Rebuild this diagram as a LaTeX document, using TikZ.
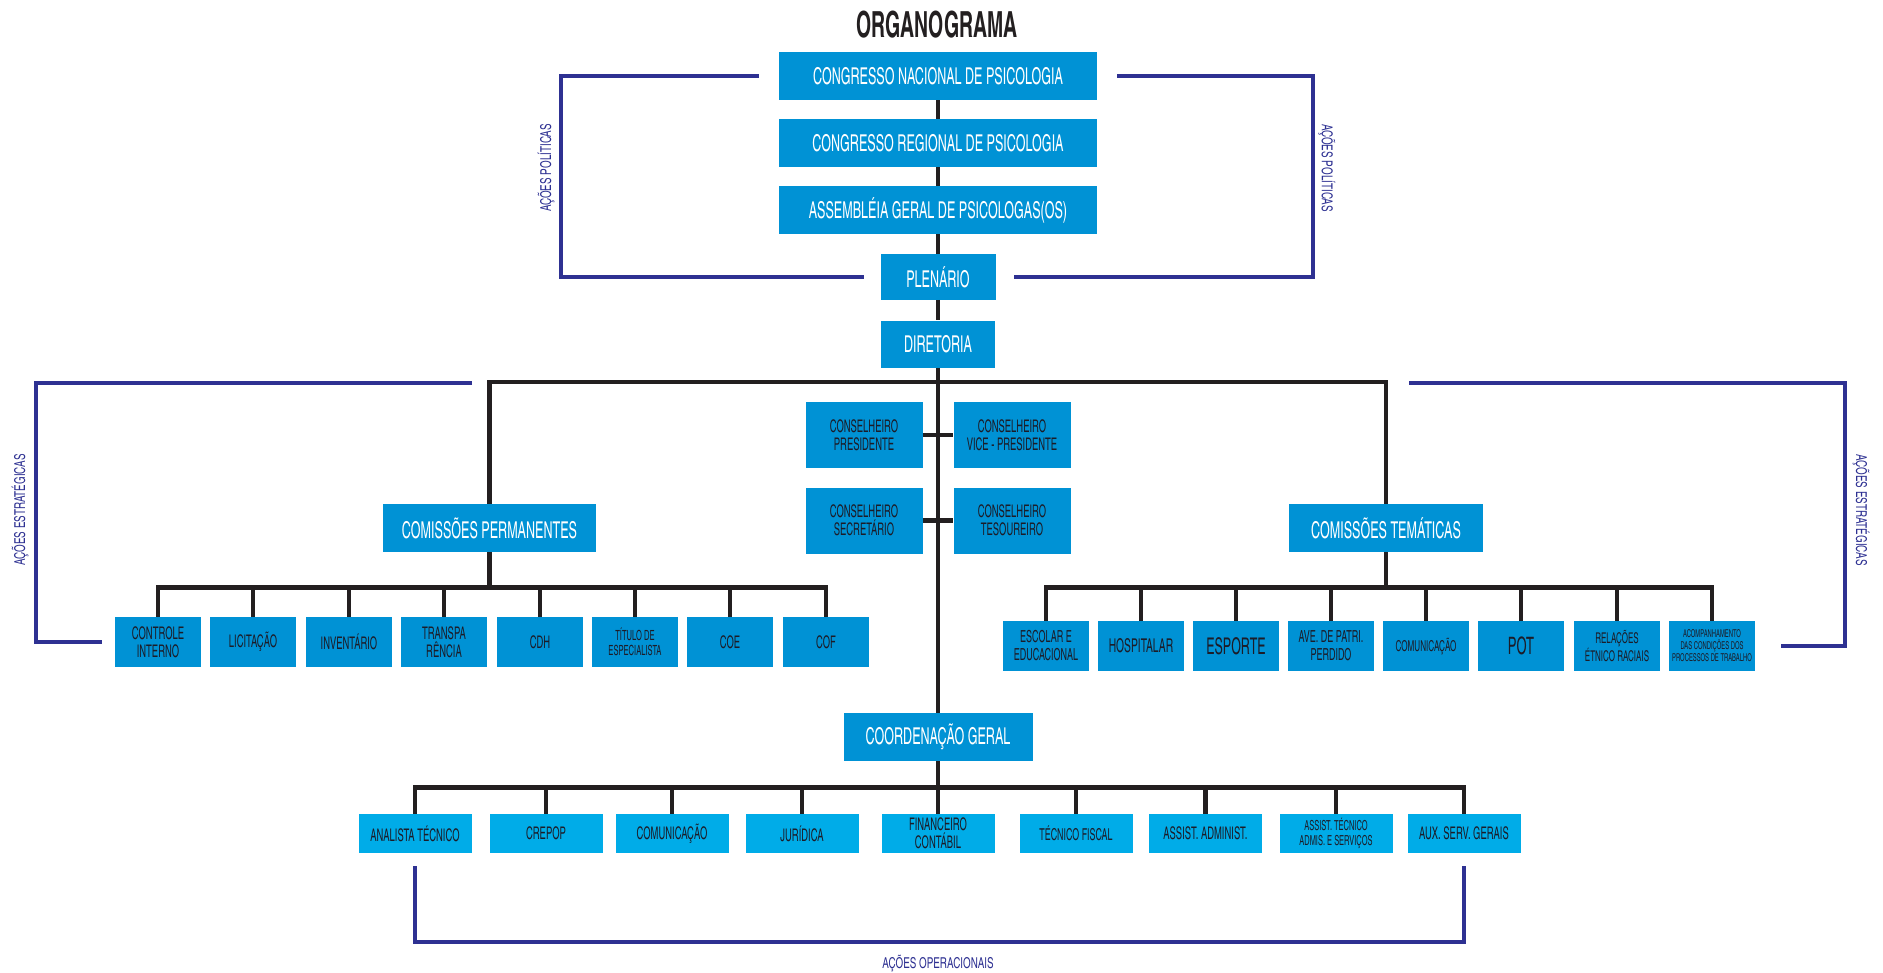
\documentclass[tikz,border=0pt]{standalone}
\usepackage{fontspec}
\newfontfamily\orgfont{texgyreheroscn-regular.otf}[BoldFont=texgyreheroscn-bold.otf,FakeStretch=0.66]
\newfontfamily\labelfont{texgyreheroscn-regular.otf}[FakeStretch=0.8]

\definecolor{orgblue}{RGB}{0,146,213}
\definecolor{opblue}{RGB}{0,172,232}
\definecolor{bracketblue}{RGB}{46,49,146}
\definecolor{linegray}{RGB}{35,31,32}
\definecolor{darktext}{RGB}{28,28,40}

\begin{document}
\begin{tikzpicture}[x=0.5pt,y=-0.5pt,node distance=33.5pt,
    fs/.style 2 args={font=\orgfont\fontsize{#1}{#2}\selectfont},
    topbox/.style={fill=orgblue,text=white,inner sep=0pt,align=center,fs={11.6}{12}},
    subbox/.style={fill=orgblue,text=darktext,inner sep=0pt,align=center,minimum width=43pt,minimum height=25pt,fs={8.7}{9}},
    opbox/.style={subbox,fill=opblue,minimum width=56.5pt,minimum height=19.5pt},
    conbox/.style={subbox,minimum width=58.5pt,minimum height=33pt},
    tree/.style={draw=linegray,line width=2.25pt},
    bracket/.style={draw=bracketblue,line width=2pt},
    bracketlabel/.style={text=bracketblue,inner sep=0pt,font=\labelfont\fontsize{7.5}{8}\selectfont}]

    \useasboundingbox (0,0) rectangle (1883,973);

    \node[font=\orgfont\bfseries\fontsize{18}{20}\selectfont,text=linegray] (title) at (937,25) {ORGANOGRAMA};

    % topo
    \node[topbox,minimum width=159pt,minimum height=24pt] (cnp) at (938,76) {CONGRESSO NACIONAL DE PSICOLOGIA};
    \node[topbox,minimum width=159pt,minimum height=24pt,below of=cnp] (crp) {CONGRESSO REGIONAL DE PSICOLOGIA};
    \node[topbox,minimum width=159pt,minimum height=24pt,below of=crp] (agp) {ASSEMBLÉIA GERAL DE PSICOLOGAS(OS)};
    \node[topbox,minimum width=57.5pt,minimum height=22.5pt,below of=agp] (plen) {PLENÁRIO};
    \node[topbox,minimum width=57pt,minimum height=23.5pt,below of=plen] (dir) {DIRETORIA};

    % conselheiros
    \node[conbox] (pres) at (864,435) {CONSELHEIRO\\PRESIDENTE};
    \node[conbox] (vice) at (1012,435) {CONSELHEIRO\\VICE - PRESIDENTE};
    \node[conbox] (sec) at (864,520.5) {CONSELHEIRO\\SECRETÁRIO};
    \node[conbox] (tes) at (1012,520.5) {CONSELHEIRO\\TESOUREIRO};

    \node[topbox,minimum width=106.5pt,minimum height=24pt] (cp) at (489.5,528) {COMISSÕES PERMANENTES};
    \node[topbox,minimum width=97pt,minimum height=24pt] (ct) at (1386,528) {COMISSÕES TEMÁTICAS};
    \node[topbox,minimum width=94.5pt,minimum height=24pt] (cg) at (938,737) {COORDENAÇÃO GERAL};

    % comissoes permanentes
    \node[subbox] (ci) at (158,642) {CONTROLE\\INTERNO};
    \node[subbox] (lic) at (253,642) {LICITAÇÃO};
    \node[subbox] (inv) at (349,642) {INVENTÁRIO};
    \node[subbox] (transp) at (444,642) {TRANSPA\\RÊNCIA};
    \node[subbox] (cdh) at (540,642) {CDH};
    \node[subbox,fs={7}{7.5}] (tit) at (635,642) {TÍTULO DE\\ESPECIALISTA};
    \node[subbox] (coe) at (730,642) {COE};
    \node[subbox] (cof) at (826,642) {COF};

    % comissoes tematicas
    \node[subbox,fs={8.3}{9}] (esc) at (1046,646) {ESCOLAR E\\EDUCACIONAL};
    \node[subbox,fs={9.5}{10}] (hosp) at (1141,646) {HOSPITALAR};
    \node[subbox,fs={11.5}{12}] (esp) at (1236,646) {ESPORTE};
    \node[subbox,fs={8.3}{9}] (ave) at (1331,646) {AVE. DE PATRI.\\PERDIDO};
    \node[subbox,fs={7.5}{8}] (com) at (1426,646) {COMUNICAÇÃO};
    \node[subbox,fs={12}{13}] (pot) at (1521,646) {POT};
    \node[subbox,fs={7.4}{8}] (rel) at (1617,646) {RELAÇÕES\\ÉTNICO RACIAIS};
    \node[subbox,fs={5.4}{6}] (acomp) at (1712,646) {ACOMPANHAMENTO\\DAS CONDIÇÕES DOS\\PROCESSOS DE TRABALHO};

    % coordenacao
    \node[opbox] (ana) at (415,833.5) {ANALISTA TÉCNICO};
    \node[opbox] (crepop) at (546,833.5) {CREPOP};
    \node[opbox] (comop) at (672,833.5) {COMUNICAÇÃO};
    \node[opbox] (jur) at (802,833.5) {JURÍDICA};
    \node[opbox] (fin) at (938,833.5) {FINANCEIRO\\CONTÁBIL};
    \node[opbox,fs={8.2}{9}] (tf) at (1076,833.5) {TÉCNICO FISCAL};
    \node[opbox] (aa) at (1205.5,833.5) {ASSIST. ADMINIST.};
    \node[opbox,fs={6.9}{7.5}] (at) at (1336,833.5) {ASSIST. TÉCNICO\\ADMIS. E SERVIÇOS};
    \node[opbox] (aux) at (1464,833.5) {AUX. SERV. GERAIS};

    \coordinate (hub) at (938,382);

    \draw[tree] (cnp) -- (crp) -- (agp) -- (plen) -- (dir) -- (cg);
    \draw[tree] (cp.north) |- (hub) -| (ct.north);
    \draw[tree] (pres) -- (vice);
    \draw[tree] (sec) -- (tes);

    \draw[tree] (cp.south) -- ++(0,35) -| (ci.north);
    \draw[tree] (cp.south) -- ++(0,35) -| (lic.north);
    \draw[tree] (cp.south) -- ++(0,35) -| (inv.north);
    \draw[tree] (cp.south) -- ++(0,35) -| (transp.north);
    \draw[tree] (cp.south) -- ++(0,35) -| (cdh.north);
    \draw[tree] (cp.south) -- ++(0,35) -| (tit.north);
    \draw[tree] (cp.south) -- ++(0,35) -| (coe.north);
    \draw[tree] (cp.south) -- ++(0,35) -| (cof.north);

    \draw[tree] (ct.south) -- ++(0,35) -| (esc.north);
    \draw[tree] (ct.south) -- ++(0,35) -| (hosp.north);
    \draw[tree] (ct.south) -- ++(0,35) -| (esp.north);
    \draw[tree] (ct.south) -- ++(0,35) -| (ave.north);
    \draw[tree] (ct.south) -- ++(0,35) -| (com.north);
    \draw[tree] (ct.south) -- ++(0,35) -| (pot.north);
    \draw[tree] (ct.south) -- ++(0,35) -| (rel.north);
    \draw[tree] (ct.south) -- ++(0,35) -| (acomp.north);

    \draw[tree] (cg.south) -- ++(0,26) -| (ana.north);
    \draw[tree] (cg.south) -- ++(0,26) -| (crepop.north);
    \draw[tree] (cg.south) -- ++(0,26) -| (comop.north);
    \draw[tree] (cg.south) -- ++(0,26) -| (jur.north);
    \draw[tree] (cg.south) -- ++(0,26) -| (fin.north);
    \draw[tree] (cg.south) -- ++(0,26) -| (tf.north);
    \draw[tree] (cg.south) -- ++(0,26) -| (aa.north);
    \draw[tree] (cg.south) -- ++(0,26) -| (at.north);
    \draw[tree] (cg.south) -- ++(0,26) -| (aux.north);

    % acoes
    \coordinate (polleft) at (561,174);
    \coordinate (polright) at (1313,174);
    \draw[bracket] ([xshift=-10pt]cnp.west) -| (polleft) |- ([xshift=-8pt]plen.west);
    \draw[bracket] ([xshift=10pt]cnp.east) -| (polright) |- ([xshift=9pt]plen.east);

    \coordinate (estleft) at (472,383);
    \coordinate (estleftv) at (36,510);
    \draw[bracket] (estleft) -| (estleftv) |- ([xshift=-6.5pt]ci.west);
    \coordinate (estright) at (1409,383);
    \coordinate (estrightv) at (1845,510);
    \draw[bracket] (estright) -| (estrightv) |- ([xshift=13pt]acomp.east);

    \coordinate (opmid) at (938,942);
    \draw[bracket] ([yshift=-6.5pt]ana.south) |- (opmid) -| ([yshift=-6.5pt]aux.south);

    \node[bracketlabel,rotate=90] (pollableft) at (546,168) {AÇÕES POLÍTICAS};
    \node[bracketlabel,rotate=-90] (pollabright) at (1327,168) {AÇÕES POLÍTICAS};
    \node[bracketlabel,rotate=90] (estlableft) at (20,510) {AÇÕES ESTRATÉGICAS};
    \node[bracketlabel,rotate=-90] (estlabright) at (1861,510) {AÇÕES ESTRATÉGICAS};
    \node[bracketlabel] (oplab) at (938,963) {AÇÕES OPERACIONAIS};

\end{tikzpicture}
\end{document}
